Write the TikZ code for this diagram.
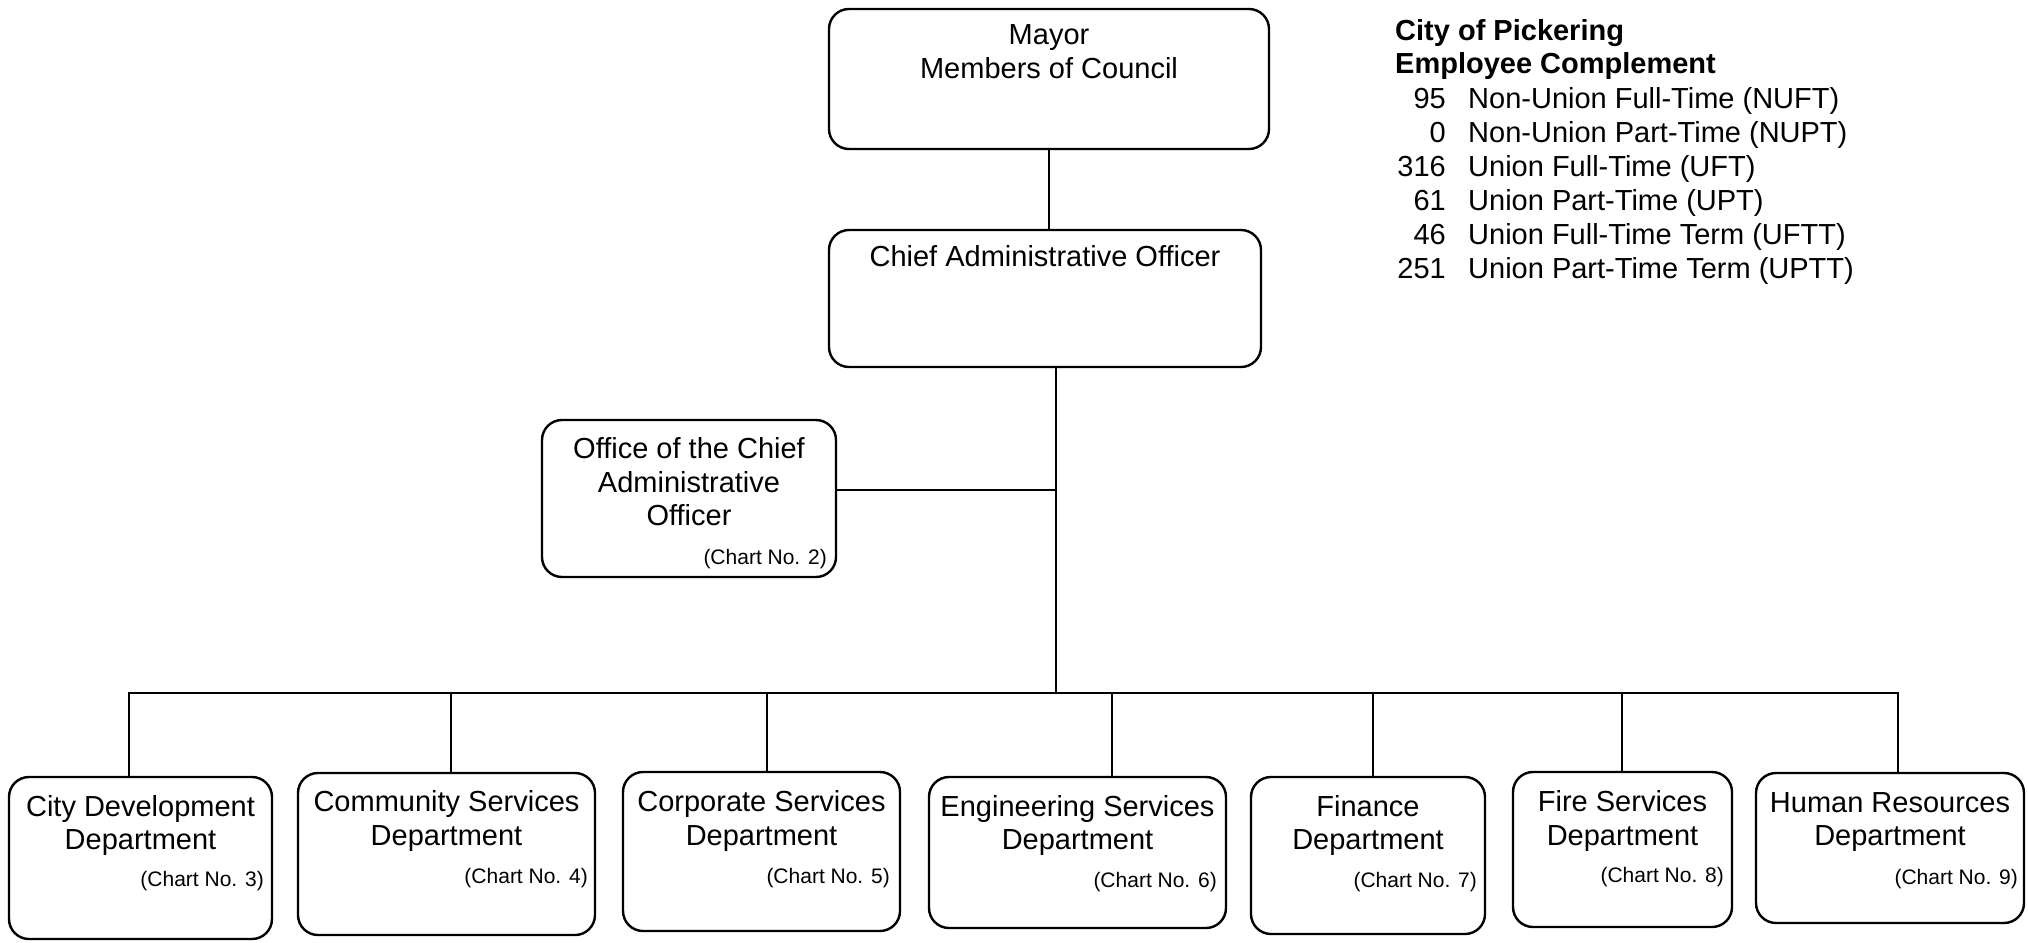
\documentclass[tikz,border=0pt]{standalone}
\usepackage{fontspec}
\setmainfont{Liberation Sans}
\begin{document}
\begin{tikzpicture}[x=1pt,y=-1pt,
  box/.style={draw, line width=2.4pt, rounded corners=20pt, inner sep=0pt},
  txt/.style={anchor=base, inner sep=0pt, font=\fontsize{29}{34}\selectfont},
  chart/.style={anchor=base east, inner sep=0pt, font=\fontsize{21}{25}\selectfont},
  head/.style={anchor=base west, inner sep=0pt, font=\fontsize{29}{34}\selectfont\bfseries},
  num/.style={anchor=base east, inner sep=0pt, font=\fontsize{29}{34}\selectfont},
  lab/.style={anchor=base west, inner sep=0pt, font=\fontsize{29}{34}\selectfont},
  conn/.style={line width=2.4pt, line join=miter}]
\useasboundingbox (0,0) rectangle (2028,942);

% top boxes
\node[box, minimum width=440pt, minimum height=140pt] (mayor) at (1049,79) {};
\node[txt] (mayorA) at (1049,45) {Mayor};
\node[txt] (mayorB) at (1049,78) {Members of Council};

\node[box, minimum width=432pt, minimum height=137pt] (cao) at (1045,298.5) {};
\node[txt] (caoA) at (1045,266) {Chief Administrative Officer};

\node[box, minimum width=294pt, minimum height=157pt] (office) at (689,498.5) {};
\node[txt] (officeA) at (689,458) {Office of the Chief};
\node[txt] (officeB) at (689,492) {Administrative};
\node[txt] (officeC) at (689,525) {Officer};
\node[chart] (officeD) at (827,564) {(Chart No. 2)};

% department boxes
\node[box, minimum width=263pt, minimum height=162pt] (b1) at (140.5,858) {};
\node[txt] (b1a) at (140.5,816) {City Development};
\node[txt] (b1b) at (140.5,849) {Department};
\node[chart] (b1c) at (264,886) {(Chart No. 3)};

\node[box, minimum width=297pt, minimum height=162pt] (b2) at (446.5,854) {};
\node[txt] (b2a) at (446.5,811) {Community Services};
\node[txt] (b2b) at (446.5,845) {Department};
\node[chart] (b2c) at (588,883) {(Chart No. 4)};

\node[box, minimum width=277pt, minimum height=159pt] (b3) at (761.5,851.5) {};
\node[txt] (b3a) at (761.5,811) {Corporate Services};
\node[txt] (b3b) at (761.5,845) {Department};
\node[chart] (b3c) at (890,883) {(Chart No. 5)};

\node[box, minimum width=297pt, minimum height=151pt] (b4) at (1077.5,852.5) {};
\node[txt] (b4a) at (1077.5,816) {Engineering Services};
\node[txt] (b4b) at (1077.5,849) {Department};
\node[chart] (b4c) at (1217,887) {(Chart No. 6)};

\node[box, minimum width=234pt, minimum height=157pt] (b5) at (1368,855.5) {};
\node[txt] (b5a) at (1368,816) {Finance};
\node[txt] (b5b) at (1368,849) {Department};
\node[chart] (b5c) at (1477,887) {(Chart No. 7)};

\node[box, minimum width=219pt, minimum height=155pt] (b6) at (1622.5,849.5) {};
\node[txt] (b6a) at (1622.5,811) {Fire Services};
\node[txt] (b6b) at (1622.5,845) {Department};
\node[chart] (b6c) at (1724,882) {(Chart No. 8)};

\node[box, minimum width=268pt, minimum height=150pt] (b7) at (1890,848) {};
\node[txt] (b7a) at (1890,812) {Human Resources};
\node[txt] (b7b) at (1890,845) {Department};
\node[chart] (b7c) at (2018,884) {(Chart No. 9)};

% legend
\node[head] (lh1) at (1395,41) {City of Pickering};
\node[head] (lh2) at (1395,74) {Employee Complement};
\node[num] (n1) at (1446,108) {95};
\node[lab] (l1) at (1468,108) {Non-Union Full-Time (NUFT)};
\node[num] (n2) at (1446,142) {0};
\node[lab] (l2) at (1468,142) {Non-Union Part-Time (NUPT)};
\node[num] (n3) at (1446,176) {316};
\node[lab] (l3) at (1468,176) {Union Full-Time (UFT)};
\node[num] (n4) at (1446,210) {61};
\node[lab] (l4) at (1468,210) {Union Part-Time (UPT)};
\node[num] (n5) at (1446,244) {46};
\node[lab] (l5) at (1468,244) {Union Full-Time Term (UFTT)};
\node[num] (n6) at (1446,278) {251};
\node[lab] (l6) at (1468,278) {Union Part-Time Term (UPTT)};

% connectors
\coordinate (j1) at (1056,490);
\coordinate (j2) at (1056,693);
\coordinate (d1) at (129,693);
\coordinate (d2) at (451,693);
\coordinate (d3) at (767,693);
\coordinate (d4) at (1112,693);
\coordinate (d5) at (1373,693);
\coordinate (d6) at (1622,693);
\coordinate (d7) at (1898,693);

\draw[conn] (mayor.south) -- (mayor.south |- cao.north);
\draw[conn] (j2 |- cao.south) -- (j2);
\draw[conn] (j1 -| office.east) -- (j1);
\draw[conn] (d1 |- b1.north) -- (d1) -- (d7) -- (d7 |- b7.north);
\draw[conn] (d2) -- (d2 |- b2.north);
\draw[conn] (d3) -- (d3 |- b3.north);
\draw[conn] (d4) -- (d4 |- b4.north);
\draw[conn] (d5) -- (d5 |- b5.north);
\draw[conn] (d6) -- (d6 |- b6.north);
\end{tikzpicture}
\end{document}
